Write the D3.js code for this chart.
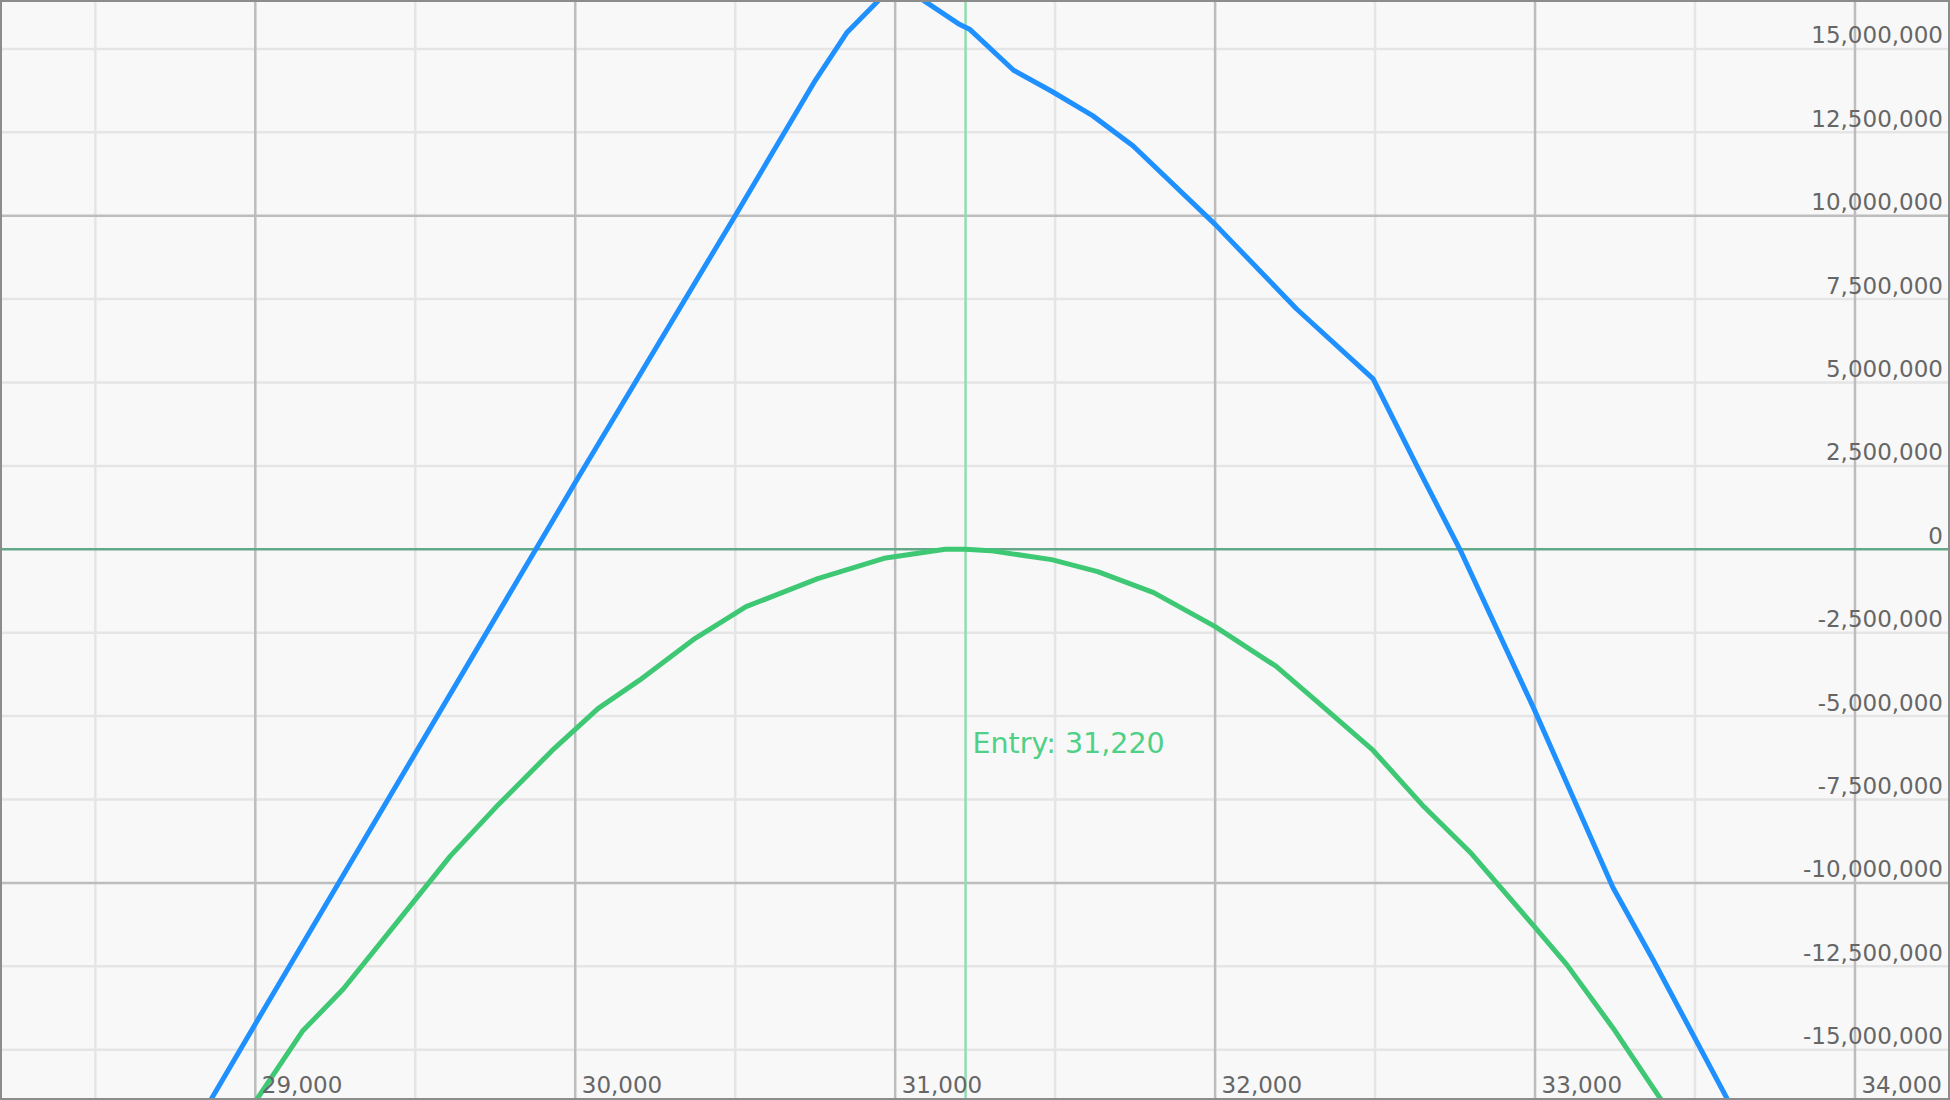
<!DOCTYPE html>
<html>
<head>
<meta charset="utf-8">
<script src="https://cdn.jsdelivr.net/npm/d3@7"></script>
<style>
  html, body { margin: 0; padding: 0; background: #f8f8f8; }
  svg { display: block; }
  text { font-family: "DejaVu Sans", Verdana, sans-serif; }
</style>
</head>
<body>
<svg id="chart" width="1950" height="1100"></svg>
<script>
// ---- data ----
const expiryPrice = [28800, 29000, 30000, 30500, 30750, 30850, 30950, 31000, 31086, 31202, 31234, 31370, 31489, 31617, 31744, 32000, 32254, 32494, 32637, 32765, 32996, 33243, 33371, 33602, 33700];
const expiryPnl   = [-17.5e6, -14.23e6, 2.0e6, 10.0e6, 14.05e6, 15.5e6, 16.47e6, 16.8e6, 16.47e6, 15.73e6, 15.58e6, 14.36e6, 13.73e6, 13.0e6, 12.09e6, 9.74e6, 7.21e6, 5.11e6, 2.38e6, 0, -4.77e6, -10.13e6, -12.34e6, -16.5e6, -18.3e6];

const nowPrice = [28950, 29004, 29147, 29275, 29434, 29610, 29753, 29928, 30072, 30200, 30375, 30534, 30758, 30965, 31156, 31220, 31298, 31489, 31633, 31808, 31999, 32191, 32318, 32494, 32653, 32797, 32996, 33099, 33243, 33394, 33450];
const nowPnl   = [-17.4e6, -16.5e6, -14.45e6, -13.18e6, -11.29e6, -9.19e6, -7.72e6, -6.03e6, -4.77e6, -3.93e6, -2.67e6, -1.72e6, -0.88e6, -0.27e6, 0, 0, -0.04e6, -0.31e6, -0.67e6, -1.30e6, -2.31e6, -3.51e6, -4.56e6, -6.03e6, -7.72e6, -9.08e6, -11.29e6, -12.45e6, -14.34e6, -16.5e6, -17.4e6];

const entryPrice = 31220;
const entryLabel = "Entry: 31,220";

const xTickValues = [29000, 30000, 31000, 32000, 33000, 34000];
const xMinorValues = [28500, 29500, 30500, 31500, 32500, 33500];
const yTickValues = [15e6, 12.5e6, 10e6, 7.5e6, 5e6, 2.5e6, 0, -2.5e6, -5e6, -7.5e6, -10e6, -12.5e6, -15e6];
const yMajorValues = [10e6, -10e6];

// ---- layout ----
const W = 1950, H = 1100;
const svg = d3.select("#chart");

const x = d3.scaleLinear().domain([28202, 34297]).range([0, W]);
const y = d3.scaleLinear().domain([-16.508e6, 16.466e6]).range([H, 0]);

svg.append("rect").attr("width", W).attr("height", H).attr("fill", "#f8f8f8");

const grid = svg.append("g");
grid.selectAll(".hmin").data(yTickValues.filter(v => v !== 0 && !yMajorValues.includes(v)))
  .join("line")
  .attr("x1", 0).attr("x2", W)
  .attr("y1", d => y(d)).attr("y2", d => y(d))
  .attr("stroke", "#e5e5e5").attr("stroke-width", 2.5);
grid.selectAll(".vmin").data(xMinorValues)
  .join("line")
  .attr("x1", d => x(d)).attr("x2", d => x(d))
  .attr("y1", 0).attr("y2", H)
  .attr("stroke", "#e5e5e5").attr("stroke-width", 2.5);
grid.selectAll(".hmaj").data(yMajorValues)
  .join("line")
  .attr("x1", 0).attr("x2", W)
  .attr("y1", d => y(d)).attr("y2", d => y(d))
  .attr("stroke", "#bdbdbd").attr("stroke-width", 2.5);
grid.selectAll(".vmaj").data(xTickValues)
  .join("line")
  .attr("x1", d => x(d)).attr("x2", d => x(d))
  .attr("y1", 0).attr("y2", H)
  .attr("stroke", "#bdbdbd").attr("stroke-width", 2.5);

// zero line
svg.append("line")
  .attr("x1", 0).attr("x2", W).attr("y1", y(0)).attr("y2", y(0))
  .attr("stroke", "#64a88a").attr("stroke-width", 2.5);

// entry line
svg.append("line")
  .attr("x1", x(entryPrice)).attr("x2", x(entryPrice)).attr("y1", 0).attr("y2", H)
  .attr("stroke", "#90ddb0").attr("stroke-width", 2.5);

svg.append("clipPath").attr("id", "plotclip")
  .append("rect").attr("x", 0).attr("y", 0).attr("width", W).attr("height", H);

const line = d3.line().x(d => x(d[0])).y(d => y(d[1]));

svg.append("path")
  .datum(nowPrice.map((p, i) => [p, nowPnl[i]]))
  .attr("clip-path", "url(#plotclip)")
  .attr("d", line)
  .attr("fill", "none").attr("stroke", "#3ec874").attr("stroke-width", 5)
  .attr("stroke-linejoin", "round");

svg.append("path")
  .datum(expiryPrice.map((p, i) => [p, expiryPnl[i]]))
  .attr("clip-path", "url(#plotclip)")
  .attr("d", line)
  .attr("fill", "none").attr("stroke", "#1e90ff").attr("stroke-width", 5)
  .attr("stroke-linejoin", "round");

// entry label
svg.append("text")
  .attr("x", x(entryPrice) + 7).attr("y", 753)
  .attr("fill", "#4fd086").attr("font-size", 28.5)
  .text(entryLabel);

// axes
const locale = d3.formatLocale({decimal: ".", thousands: ",", grouping: [3], currency: ["$", ""], minus: "-"});
const fmt = locale.format(",");
const yAxis = svg.append("g").attr("transform", "translate(1943,0)")
  .call(d3.axisLeft(y).tickValues(yTickValues).tickFormat(fmt).tickSize(0).tickPadding(0));
yAxis.select(".domain").remove();
yAxis.selectAll("text")
  .attr("x", 0).attr("dy", -6)
  .attr("fill", "#666666").attr("font-size", 23)
  .attr("font-family", "DejaVu Sans, Verdana, sans-serif");

const xAxis = svg.append("g").attr("transform", "translate(0,1093)")
  .call(d3.axisBottom(x).tickValues(xTickValues).tickFormat(fmt).tickSize(0).tickPadding(0));
xAxis.select(".domain").remove();
xAxis.selectAll("text")
  .attr("x", 6).attr("y", 0).attr("dy", 0)
  .attr("text-anchor", "start")
  .attr("fill", "#666666").attr("font-size", 23)
  .attr("font-family", "DejaVu Sans, Verdana, sans-serif");

// frame
svg.append("rect")
  .attr("x", 1).attr("y", 1).attr("width", W - 2).attr("height", H - 2)
  .attr("fill", "none").attr("stroke", "#8c8c8c").attr("stroke-width", 2);
</script>
</body>
</html>
